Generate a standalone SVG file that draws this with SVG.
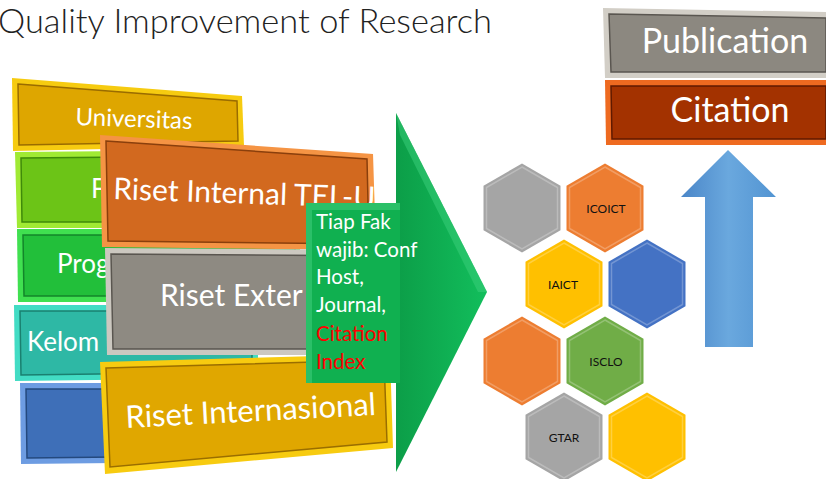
<svg xmlns="http://www.w3.org/2000/svg" width="826" height="479" viewBox="0 0 826 479">
<style>
.t{font-family:Lato,"Liberation Sans",sans-serif;fill:#fff}
.h{font-family:Lato,"Liberation Sans",sans-serif;fill:#111;font-size:12px;text-anchor:middle}
.dk{stroke-width:1.5}
</style>
<defs>
<linearGradient id="gArr" x1="0" y1="0" x2="1" y2="0"><stop offset="0" stop-color="#0C9E48"/><stop offset="1" stop-color="#12BE5C"/></linearGradient>
<linearGradient id="bArr" x1="0" y1="0" x2="1" y2="0"><stop offset="0" stop-color="#4A86C8"/><stop offset="0.5" stop-color="#6AA8DE"/><stop offset="1" stop-color="#5294D2"/></linearGradient>
<g id="hex"><polygon points="0,-44.5 38.5,-22.25 38.5,22.25 0,44.5 -38.5,22.25 -38.5,-22.25"/><polygon points="0,-41 35.5,-20.5 35.5,20.5 0,41 -35.5,20.5 -35.5,-20.5" fill="none" stroke="#fff" stroke-opacity="0.25" stroke-width="1.5"/></g>
</defs>
<rect width="826" height="479" fill="#fff"/>
<text x="-2" y="33" font-family="Lato,'Liberation Sans',sans-serif" font-weight="300" font-size="34" fill="#222" textLength="494" lengthAdjust="spacingAndGlyphs">Quality Improvement of Research</text>

<g id="universitas"><polygon points="12,78 242,96 244,146 13,151" fill="#F6CB10"/><polygon points="18,84 237,101 238,141 19,145" fill="#DEA600" stroke="#9A6C00" class="dk"/><text class="t" x="134" y="127" font-size="24" text-anchor="middle" transform="rotate(2 134 120)">Universitas</text></g>
<g id="fakultas"><polygon points="15,152 245,150 245,228 17,228" fill="#A0EA34"/><polygon points="21,158 240,156 240,222 22,222" fill="#6CC417" stroke="#3F8A0A" class="dk"/><text class="t" x="91" y="198" font-size="26">F</text></g>
<g id="prodi"><polygon points="17,229 300,229 300,302 18,302" fill="#40E050"/><polygon points="23,235 295,235 295,296 24,296" fill="#22BF3A" stroke="#13852A" class="dk"/><text class="t" x="57" y="273" font-size="26">Prog</text></g>
<g id="kelompok"><polygon points="14,305 258,305 258,378 15,381" fill="#42DCC4"/><polygon points="20,311 252,311 252,372 21,375" fill="#2EB8A5" stroke="#1A8070" class="dk"/><text class="t" x="27" y="351" font-size="26">Kelom</text></g>
<g id="blue"><polygon points="20,383 210,383 210,462 21,464" fill="#6D9CE2"/><polygon points="26,389 205,389 205,456 27,458" fill="#3E6FB8" stroke="#24497E" class="dk"/></g>

<g id="internal"><polygon points="100,135 373,154 376,250 102,247" fill="#F59444"/><polygon points="106,141 367,159 369,244 108,241" fill="#D2691F" stroke="#8A3F0C" class="dk"/><text class="t" x="113" y="199" font-size="30" transform="rotate(2 113 199)">Riset Internal TEL-U</text></g>
<g id="external"><polygon points="105,248 400,250 400,355 107,355" fill="#CCC8C0"/><polygon points="111,254 400,256 400,349 113,349" fill="#8E8A82" stroke="#5A5650" class="dk"/><text class="t" x="160" y="306" font-size="30">Riset Exter</text></g>
<g id="internasional"><polygon points="100,362 390,354 393,448 105,474" fill="#F7CB10"/><polygon points="106,368 384,360 387,442 110,467" fill="#E0A700" stroke="#9A6E00" class="dk"/><text class="t" x="126" y="428" font-size="31" transform="rotate(-3 126 428)">Riset Internasional</text></g>

<g id="arrow"><polygon points="396,113 487,292 396,472" fill="url(#gArr)"/><polygon points="396,113 487,292 478,292 400,135" fill="#3CD07C" opacity="0.5"/></g>
<g id="callout"><rect x="306" y="203" width="94" height="180" fill="#10B050"/><polygon points="306,203 400,203 400,210 312,210 312,383 306,383" fill="#3CCB78" opacity="0.6"/>
<text class="t" font-size="20.5"><tspan x="316" y="229">Tiap Fak</tspan><tspan x="316" y="257">wajib: Conf</tspan><tspan x="316" y="284">Host,</tspan><tspan x="316" y="312">Journal,</tspan><tspan x="316" y="341" fill="#F00">Citation</tspan><tspan x="316" y="369" fill="#F00">Index</tspan></text></g>

<g id="hexes">
<use href="#hex" x="522" y="208" fill="#A5A5A5"/>
<g id="icoict"><use href="#hex" x="605" y="208" fill="#ED7D31"/><text class="h" x="606" y="213">ICOICT</text></g>
<g id="iaict"><use href="#hex" x="564" y="284" fill="#FFC000"/><text class="h" x="563" y="289">IAICT</text></g>
<use href="#hex" x="647" y="284" fill="#4472C4"/>
<use href="#hex" x="522" y="361" fill="#ED7D31"/>
<g id="isclo"><use href="#hex" x="605" y="361" fill="#70AD47"/><text class="h" x="606" y="366">ISCLO</text></g>
<g id="gtar"><use href="#hex" x="564" y="437" fill="#A5A5A5"/><text class="h" x="564" y="442">GTAR</text></g>
<use href="#hex" x="647" y="437" fill="#FFC000"/>
</g>

<g id="uparrow"><polygon points="728,150 776,197 753,197 753,347 705,347 705,197 681,197" fill="url(#bArr)"/></g>

<g id="publication"><polygon points="603,8 826,12 826,78 605,78" fill="#D2CEC6"/><polygon points="609,14 826,18 826,72 611,72" fill="#8C8880" stroke="#5A5650" class="dk"/><text class="t" x="725" y="53" font-size="34" text-anchor="middle">Publication</text></g>
<g id="citation"><polygon points="605,80 826,80 826,145 606,145" fill="#EE6A20"/><polygon points="611,86 826,86 826,139 612,139" fill="#A33200" stroke="#601A00" class="dk"/><text class="t" x="730" y="122" font-size="34" text-anchor="middle">Citation</text></g>
</svg>
